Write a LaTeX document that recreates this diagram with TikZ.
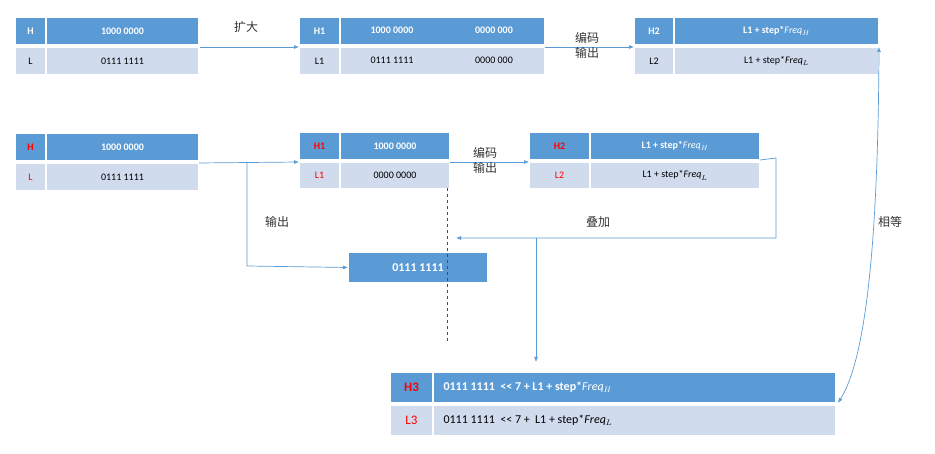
\documentclass[tikz,border=0pt]{standalone}
\usepackage{fontspec}
\setmainfont{Carlito}
\newfontfamily\cjk{Noto Sans CJK SC}
\usetikzlibrary{arrows.meta}
\definecolor{hb}{HTML}{5B9BD5}
\definecolor{lb}{HTML}{D0DBEE}
\definecolor{ln}{HTML}{5B9BD5}
\begin{document}
\begin{tikzpicture}[x=1pt,y=-1pt,
 hd/.style={fill=hb,draw=white,line width=1pt,text=white,font=\bfseries\fontsize{11}{13}\selectfont,inner sep=0pt},
 lw/.style={fill=lb,draw=white,line width=1pt,text=black,font=\fontsize{11}{13}\selectfont,inner sep=0pt},
 con/.style={draw=ln,line width=0.7pt},
 arr/.style={con,-{Latex[length=5pt,width=4pt]}},
 lab/.style={font=\cjk\fontsize{12}{15}\selectfont,align=center,text=black!80}]
\useasboundingbox (0,0) rectangle (935,454);
\newcommand\cell[6]{\node[#1,minimum width=#4-#2,minimum height=#5-#3,anchor=north west] (#6) at (#2,#3) {};}
% table 1
\cell{hd}{15}{17}{45}{44}{a1}\node[text=white,font=\bfseries] at (a1) {H};
\cell{hd}{46}{17}{198}{44}{a2}\node[text=white,font=\bfseries] at (a2) {1000 0000};
\cell{lw}{15}{47}{45}{74}{a3}\node at (a3) {L};
\cell{lw}{46}{47}{198}{74}{a4}\node at (a4) {0111 1111};
% table 2
\cell{hd}{299}{17}{339}{44}{b1}\node[text=white,font=\bfseries] at (b1) {H1};
\cell{hd}{340}{17}{544}{44}{b2}\node[text=white,font=\bfseries] at (392,30.5) {1000 0000};\node[text=white,font=\bfseries] at (494,30.5) {0000 000};
\cell{lw}{299}{47}{339}{74}{b3}\node at (b3) {L1};
\cell{lw}{340}{47}{544}{74}{b4}\node at (392,60.5) {0111 1111};\node at (494,60.5) {0000 000};
% table 3
\cell{hd}{634}{17}{673}{44}{c1}\node[text=white,font=\bfseries] at (c1) {H2};
\cell{hd}{674}{17}{878}{44}{c2}\node[text=white,font=\bfseries] at (c2) {L1 + step*$\mathit{Freq}_H$};
\cell{lw}{634}{47}{673}{74}{c3}\node at (c3) {L2};
\cell{lw}{674}{47}{878}{74}{c4}\node at (c4) {L1 + step*$\mathit{Freq}_L$};
% table 4
\cell{hd}{15}{133}{45}{160}{d1}\node[text=red,font=\bfseries] at (d1) {H};
\cell{hd}{46}{133}{198}{160}{d2}\node[text=white,font=\bfseries] at (d2) {1000 0000};
\cell{lw}{15}{163}{45}{190}{d3}\node[text=red] at (d3) {L};
\cell{lw}{46}{163}{198}{190}{d4}\node at (d4) {0111 1111};
% table 5
\cell{hd}{299}{132}{339}{159}{e1}\node[text=red,font=\bfseries] at (e1) {H1};
\cell{hd}{340}{132}{449}{159}{e2}\node[text=white,font=\bfseries] at (e2) {1000 0000};
\cell{lw}{299}{162}{339}{188}{e3}\node[text=red] at (e3) {L1};
\cell{lw}{340}{162}{449}{188}{e4}\node at (e4) {0000 0000};
% table 6
\cell{hd}{529}{132}{589}{159}{f1}\node[text=red,font=\bfseries] at (f1) {H2};
\cell{hd}{590}{132}{759}{159}{f2}\node[text=white,font=\bfseries] at (f2) {L1 + step*$\mathit{Freq}_H$};
\cell{lw}{529}{162}{589}{188}{f3}\node[text=red] at (f3) {L2};
\cell{lw}{590}{162}{759}{188}{f4}\node at (f4) {L1 + step*$\mathit{Freq}_L$};
% box
\cell{hd}{348}{252}{487}{282}{g}\node[text=white,font=\bfseries\fontsize{12}{14}\selectfont] at (g) {0111 1111};
% table 7
\cell{hd}{390}{372}{432}{402}{h1}\node[text=red,font=\bfseries\fontsize{13}{15}\selectfont] at (h1) {H3};
\cell{hd}{433}{372}{835}{402}{h2}\node[text=white,font=\bfseries\fontsize{12}{14}\selectfont,anchor=west] at (440,387) {0111 1111~ <{}< 7 + L1 + step*$\mathit{Freq}_H$};
\cell{lw}{390}{405}{432}{435}{h3}\node[text=red,font=\fontsize{13}{15}\selectfont] at (h3) {L3};
\cell{lw}{433}{405}{835}{435}{h4}\node[font=\fontsize{12}{14}\selectfont,anchor=west] at (440,420) {0111 1111~ <{}< 7 +~ L1 + step*$\mathit{Freq}_L$};
% connectors
\draw[arr] (a4.north east) ++(1,0) coordinate (p1) -- (b3.north west);
\node[lab] at (246,27) {扩大};
\draw[arr] (b4.north east) -- (c3.north west);
\node[lab] at (587,45) {编码\\输出};
\draw[arr] (d4.north east) -- (e3.north west);
\coordinate (q1) at (247,162);
\coordinate (q2) at (247,266);
\draw[arr] (q1) -- (q2) -- (g.west);
\node[lab] at (277,222) {输出};
\draw[arr] (e4.north east) -- (f3.north west);
\node[lab] at (485,160) {编码\\输出};
\coordinate (r1) at (776,158);
\coordinate (r2) at (776,238);
\coordinate (r3) at (456,238);
\draw[arr] (f2.south east) -- (r1) -- (r2) -- (r3);
\node[lab] at (598,222) {叠加};
\coordinate (s1) at (536,238);
\coordinate (s2) at (536,362);
\draw[arr] (s1) -- (s2);
\coordinate (t1) at (447,188);
\coordinate (t2) at (447,342);
\draw[red,dashed,line width=0.6pt] (t1) -- (t2);
\draw[con,{Latex[length=5pt,width=4pt]}-{Latex[length=5pt,width=4pt]}] (h2.south east) ++(2,0) .. controls (865,360) and (878,250) .. (c4.north east);
\node[lab] at (890,222) {相等};
\end{tikzpicture}
\end{document}
